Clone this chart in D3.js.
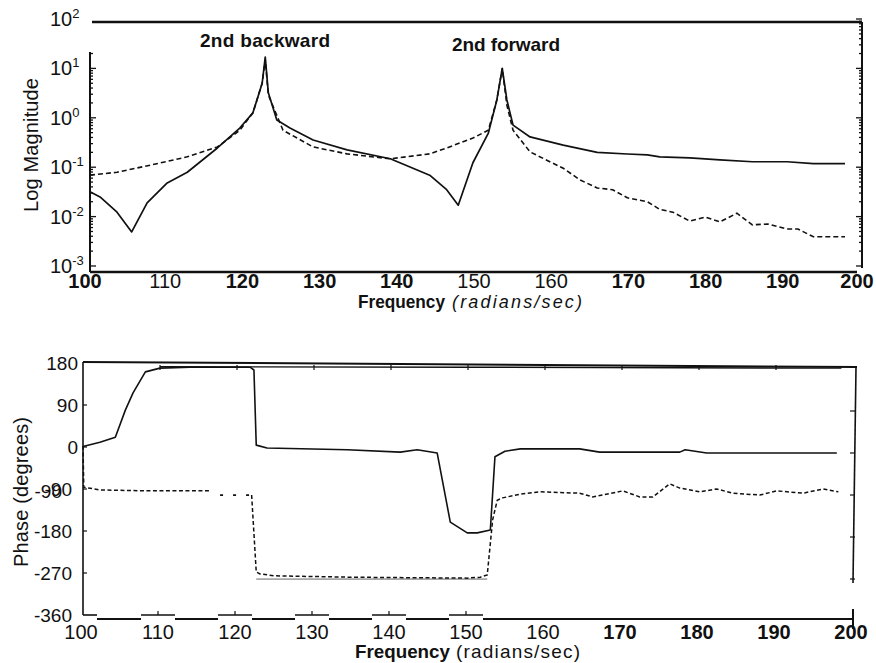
<!DOCTYPE html>
<html>
<head>
<meta charset="utf-8">
<script src="https://cdn.jsdelivr.net/npm/d3@7"></script>
<style>
body { margin: 0; background: #fff; }
svg { display: block; font-family: "Liberation Sans", Arial, sans-serif; }
</style>
</head>
<body>
<div id="chart"></div>
<script>
// ---- data ----
var freqTicks = [100, 110, 120, 130, 140, 150, 160, 170, 180, 190, 200];
var magPowers = [-3, -2, -1, 0, 1, 2];
var phaseTicks = [180, 90, 0, -90, -180, -270, -360];

// top panel: magnitude, solid curve
var solidMagFreq = [100.0, 101.3, 103.5, 105.4, 107.4, 110.0, 112.6, 116.5, 119.4, 121.1, 122.3, 122.7, 123.1, 124.2, 125.9, 128.9, 133.3, 138.9, 144.0, 146.2, 147.7, 149.6, 151.6, 152.7, 153.4, 154.0, 154.8, 157.0, 161.3, 165.7, 169.6, 172.2, 173.8, 177.7, 181.6, 185.8, 190.3, 193.7, 197.8];
var solidMag = [0.032, 0.025, 0.0123, 0.0049, 0.019, 0.048, 0.079, 0.245, 0.62, 1.26, 5.0, 17, 3.2, 0.9, 0.62, 0.355, 0.224, 0.148, 0.069, 0.035, 0.017, 0.123, 0.49, 2.3, 10, 2.3, 0.71, 0.41, 0.28, 0.20, 0.185, 0.178, 0.162, 0.155, 0.141, 0.129, 0.129, 0.118, 0.118];

// top panel: magnitude, dashed curve
var dashMagFreq = [100.0, 103.5, 107.8, 112.6, 116.5, 119.4, 121.1, 122.3, 122.7, 123.1, 125.0, 128.9, 133.3, 138.9, 144.0, 146.2, 149.6, 151.6, 152.7, 153.4, 154.0, 154.8, 157.0, 161.3, 163.5, 165.7, 167.7, 169.6, 172.2, 173.8, 175.5, 177.7, 179.7, 181.6, 183.8, 185.8, 187.8, 190.3, 191.7, 193.7, 197.8];
var dashMag = [0.069, 0.079, 0.11, 0.162, 0.257, 0.56, 1.26, 5.0, 15, 2.9, 0.56, 0.257, 0.186, 0.148, 0.186, 0.245, 0.39, 0.56, 2.3, 10, 1.8, 0.56, 0.204, 0.095, 0.055, 0.038, 0.035, 0.024, 0.020, 0.014, 0.0123, 0.0081, 0.0098, 0.0078, 0.0117, 0.0068, 0.0071, 0.0056, 0.0056, 0.0039, 0.0039];

// bottom panel: phase, solid curve
var solidPhFreq = [100.0, 102.2, 104.2, 105.5, 106.5, 108.1, 110.0, 113.9, 121.7, 122.2, 122.5, 123.9, 134.3, 141.2, 143.4, 146.0, 147.7, 149.9, 151.2, 152.9, 153.5, 154.8, 156.8, 164.5, 167.1, 177.5, 178.2, 181.0, 192.7, 197.9];
var solidPh = [1, 10, 21, 79, 116, 161, 169, 171, 171, 165, 4, -2, -6, -11, -6, -13, -161, -184, -184, -178, -21, -9, -4, -4, -11, -11, -6, -13, -13, -13];

// bottom panel: phase, dashed curve (null = gap)
var dashPhFreq = [100.0, 100.1, 102.2, 108.7, 116.5, 117.0, 121.9, 122.5, 123.0, 124.9, 134.7, 149.9, 151.6, 152.5, 153.2, 153.8, 154.5, 156.8, 159.4, 164.5, 166.2, 170.1, 172.3, 174.0, 176.2, 177.5, 180.1, 182.3, 184.4, 187.9, 190.1, 193.5, 196.1, 198.1];
var dashPh = [2, -86, -92, -94, -94, null, -103, -268, -272, -276, -279, -281, -279, -274, -156, -114, -109, -101, -96, -99, -107, -94, -107, -107, -79, -88, -96, -90, -99, -103, -94, -99, -90, -96];

// sparse dotted bridge of the dashed phase curve
var bridgePhFreq = [117.8, 121.9];
var bridgePh = [-103, -103];

// faint extra traces in the phase panel
var upperPhFreq = [110.0, 150.0, 198.5];
var upperPh = [172, 171, 169];
var lowerPhFreq = [122.5, 152.5];
var lowerPh = [-283, -283];

// ---- drawing ----
var svg = d3.select('#chart').append('svg').attr('width', 876).attr('height', 663);
var ink = '#111';

function seg(g, x1, y1, x2, y2, w) {
    return g.append('line').attr('x1', x1).attr('y1', y1).attr('x2', x2).attr('y2', y2)
        .attr('stroke', ink).attr('stroke-width', w || 2);
}

//==== top panel: log magnitude ====
var xMag = d3.scaleLinear().domain([100, 200]).range([90, 862]);
var yMag = d3.scaleLog().domain([1e-3, 1e2]).range([266, 19]);
var magG = svg.append('g');

seg(magG, 92, 22, 862, 22, 2.6);
seg(magG, 90, 52, 90, 272, 2);
seg(magG, 90, 272, 857, 272, 2.6);
seg(magG, 862, 22, 862, 268, 2);

// log ticks, inward on both sides
yMag.ticks().forEach(function (t) {
    var y = yMag(t);
    var major = Math.abs(Math.log10(t) - Math.round(Math.log10(t))) < 1e-9;
    var len = major ? 6 : 3;
    if (y >= 52) seg(magG, 90, y, 90 + len, y, 1.3);
    seg(magG, 862, y, 862 - len, y, 1.3);
});

magPowers.forEach(function (p) {
    var t = magG.append('text').attr('x', 50).attr('y', yMag(Math.pow(10, p)) + 7)
        .attr('font-size', 20).attr('fill', ink);
    t.append('tspan').text('10');
    t.append('tspan').attr('dy', -8).attr('font-size', 13).text(String(p));
});

var topBold = [100, 120, 130, 140, 170, 180, 190, 200];
magG.selectAll('text.xt').data(freqTicks).enter().append('text')
    .attr('class', 'xt')
    .attr('x', function (d) { return xMag(d) - 2 - (d === 100 || d === 200 ? 3 : 0); })
    .attr('y', 288)
    .attr('text-anchor', 'middle')
    .attr('font-size', 20)
    .attr('font-weight', function (d) { return topBold.indexOf(d) >= 0 ? 'bold' : 'normal'; })
    .attr('fill', ink)
    .text(function (d) { return d; });

magG.append('text').attr('x', 358).attr('y', 308).attr('font-size', 18).attr('font-weight', 'bold')
    .attr('textLength', 87).attr('lengthAdjust', 'spacingAndGlyphs').attr('fill', ink).text('Frequency');
magG.append('text').attr('x', 452).attr('y', 308).attr('font-size', 18).attr('font-style', 'italic')
    .attr('textLength', 130).attr('lengthAdjust', 'spacing').attr('fill', ink).text('(radians/sec)');

magG.append('text').attr('transform', 'translate(38,145)rotate(-90)').attr('text-anchor', 'middle')
    .attr('font-size', 20).attr('textLength', 134).attr('fill', ink).text('Log Magnitude');

magG.append('text').attr('x', 265).attr('y', 47).attr('text-anchor', 'middle').attr('font-size', 19)
    .attr('font-weight', 'bold').attr('textLength', 130).attr('fill', ink).text('2nd backward');
magG.append('text').attr('x', 506).attr('y', 51).attr('text-anchor', 'middle').attr('font-size', 19)
    .attr('font-weight', 'bold').attr('textLength', 108).attr('fill', ink).text('2nd forward');

var magLine = d3.line()
    .x(function (d) { return xMag(d[0]); })
    .y(function (d) { return yMag(d[1]); });

magG.append('path').datum(d3.zip(solidMagFreq, solidMag)).attr('d', magLine)
    .attr('fill', 'none').attr('stroke', ink).attr('stroke-width', 1.7).attr('stroke-linejoin', 'round');
magG.append('path').datum(d3.zip(dashMagFreq, dashMag)).attr('d', magLine)
    .attr('fill', 'none').attr('stroke', ink).attr('stroke-width', 1.6).attr('stroke-dasharray', '5,3');

//==== bottom panel: phase ====
var xPh = d3.scaleLinear().domain([100, 200]).range([83, 853]);
var yPh = d3.scaleLinear().domain([-360, 180]).range([615, 363]);
var phG = svg.append('g');

seg(phG, 83, 362, 857, 367, 2);
seg(phG, 83, 362, 83, 615, 1.6);
seg(phG, 856, 367, 853, 583, 1.6);
seg(phG, 83, 615, 97, 615, 1.6);

// the bottom axis is broken into raised pieces under some labels
var raised = [110, 120, 130, 140, 150];
var startX = 97;
raised.forEach(function (t) {
    var cx = xPh(t) - 2;
    seg(phG, startX, 619, cx - 17, 619, 2.2);
    seg(phG, cx - 17, 615, cx + 17, 615, 1.4);
    seg(phG, cx, 615, cx, 611, 1.2);
    startX = cx + 17;
});
seg(phG, startX, 619, 853, 619, 2.2);
seg(phG, xPh(200), 609, xPh(200), 629, 2);

// ticks along the top border and both sides
freqTicks.slice(1, -1).forEach(function (t) {
    seg(phG, xPh(t), 365, xPh(t), 370, 1.2);
});
phaseTicks.slice(1, -1).forEach(function (t) {
    seg(phG, 83, yPh(t), 87, yPh(t), 1.2);
    seg(phG, 855, yPh(t) + 6, 850, yPh(t) + 6, 1.2);
});

phaseTicks.forEach(function (t) {
    phG.append('text').attr('x', t >= 0 ? 78 : 72).attr('y', yPh(t) + 7)
        .attr('text-anchor', 'end').attr('font-size', 19).attr('fill', ink).text(t);
});
// second, overlapping -90 label as in the original
phG.append('text').attr('x', 62).attr('y', yPh(-90) + 9)
    .attr('text-anchor', 'end').attr('font-size', 19).attr('fill', ink).text('-90');

var botBold = [170, 180, 190, 200];
phG.selectAll('text.xt').data(freqTicks).enter().append('text')
    .attr('class', 'xt')
    .attr('x', function (d) { return xPh(d) - 2; })
    .attr('y', 639)
    .attr('text-anchor', 'middle')
    .attr('font-size', 20)
    .attr('font-weight', function (d) { return botBold.indexOf(d) >= 0 ? 'bold' : 'normal'; })
    .attr('fill', ink)
    .text(function (d) { return d; });

phG.append('text').attr('x', 355).attr('y', 658).attr('font-size', 19).attr('font-weight', 'bold')
    .attr('textLength', 95).attr('lengthAdjust', 'spacingAndGlyphs').attr('fill', ink).text('Frequency');
phG.append('text').attr('x', 456).attr('y', 658).attr('font-size', 19)
    .attr('textLength', 124).attr('lengthAdjust', 'spacing').attr('fill', ink).text('(radians/sec)');

phG.append('text').attr('transform', 'translate(28,492)rotate(-90)').attr('text-anchor', 'middle')
    .attr('font-size', 20).attr('textLength', 150).attr('fill', ink).text('Phase (degrees)');

var phLine = d3.line()
    .defined(function (d) { return d[1] !== null; })
    .x(function (d) { return xPh(d[0]); })
    .y(function (d) { return yPh(d[1]); });

phG.append('path').datum(d3.zip(upperPhFreq, upperPh)).attr('d', phLine)
    .attr('fill', 'none').attr('stroke', ink).attr('stroke-width', 1.4);
phG.append('path').datum(d3.zip(lowerPhFreq, lowerPh)).attr('d', phLine)
    .attr('fill', 'none').attr('stroke', '#666').attr('stroke-width', 1);
phG.append('path').datum(d3.zip(solidPhFreq, solidPh)).attr('d', phLine)
    .attr('fill', 'none').attr('stroke', ink).attr('stroke-width', 1.6).attr('stroke-linejoin', 'round');
phG.append('path').datum(d3.zip(dashPhFreq, dashPh)).attr('d', phLine)
    .attr('fill', 'none').attr('stroke', ink).attr('stroke-width', 1.5).attr('stroke-dasharray', '4,2.5');
phG.append('path').datum(d3.zip(bridgePhFreq, bridgePh)).attr('d', phLine)
    .attr('fill', 'none').attr('stroke', ink).attr('stroke-width', 1.8).attr('stroke-dasharray', '3,10');
</script>
</body>
</html>
